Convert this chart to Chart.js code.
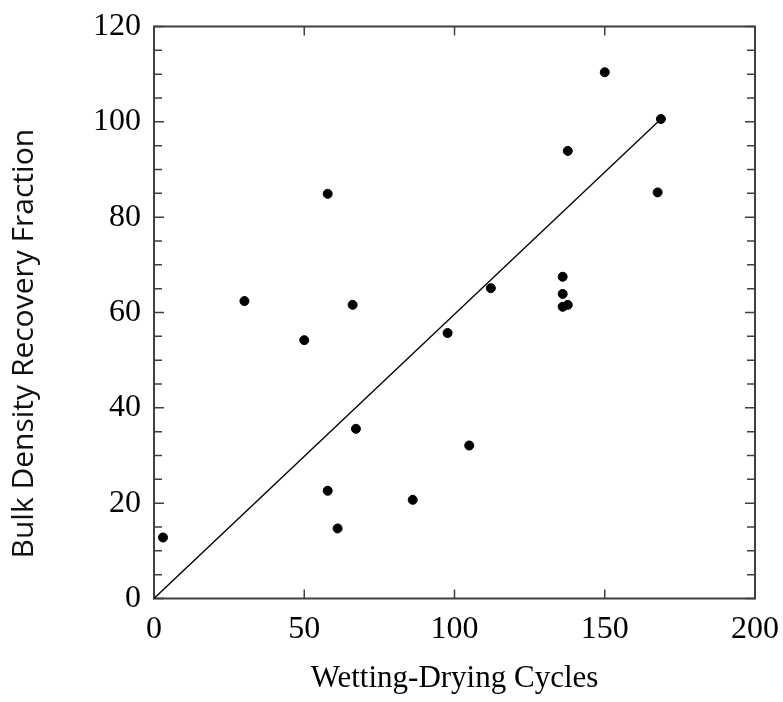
<!DOCTYPE html>
<html>
<head>
<meta charset="utf-8">
<script src="https://cdn.jsdelivr.net/npm/chart.js@4"></script>
<style>
  html, body { margin: 0; padding: 0; background: #fff; }
  #wrap { width: 783px; height: 702px; }
</style>
</head>
<body>
<div id="wrap"><canvas id="c" width="783" height="702"></canvas></div>
<script>
// Data
const cyclesX = [3, 57.8, 61.1, 67.2, 86.1, 104.9, 30.1, 50.0, 66.1, 97.7, 112.1, 136.0, 136.0, 136.0, 137.7, 57.8, 150.0, 168.7, 137.7, 167.6];
const recoveryY = [12.8, 22.6, 14.7, 35.6, 20.7, 32.1, 62.4, 54.2, 61.6, 55.7, 65.1, 67.5, 63.9, 61.2, 61.6, 84.9, 110.4, 100.6, 93.9, 85.2];
const fitLineX = [0, 168.7];
const fitLineY = [0, 100.6];
const yLabelValues = [0, 20, 40, 60, 80, 100, 120];
const xTickValues = [0, 50, 100, 150, 200];

const points = cyclesX.map((x, i) => ({ x: x, y: recoveryY[i] }));
const linePts = fitLineX.map((x, i) => ({ x: x, y: fitLineY[i] }));

const AXIS_COLOR = '#404040';

const framePlugin = {
  id: 'frameTicks',
  beforeDatasetsDraw(chart) {
    const { ctx, chartArea: { left, right, top, bottom }, scales: { x, y } } = chart;
    ctx.save();
    ctx.strokeStyle = AXIS_COLOR;
    ctx.lineWidth = 2;
    ctx.strokeRect(left, top, right - left, bottom - top);
    ctx.lineWidth = 1.5;
    ctx.beginPath();
    y.ticks.forEach(t => {
      const py = y.getPixelForValue(t.value);
      const len = yLabelValues.includes(t.value) ? 10 : 8;
      ctx.moveTo(left, py); ctx.lineTo(left + len, py);
      ctx.moveTo(right, py); ctx.lineTo(right - len, py);
    });
    x.ticks.forEach(t => {
      const px = x.getPixelForValue(t.value);
      ctx.moveTo(px, bottom); ctx.lineTo(px, bottom - 9);
      ctx.moveTo(px, top); ctx.lineTo(px, top + 9);
    });
    ctx.stroke();
    ctx.restore();
  }
};

new Chart(document.getElementById('c'), {
  type: 'scatter',
  data: {
    datasets: [
      {
        label: 'Fit',
        type: 'line',
        data: linePts,
        borderColor: '#000',
        borderWidth: 1.3,
        pointRadius: 0,
        fill: false,
        tension: 0
      },
      {
        label: 'Observations',
        data: points,
        backgroundColor: '#000',
        borderColor: '#000',
        pointRadius: 4.5,
        pointHoverRadius: 4.5
      }
    ]
  },
  options: {
    responsive: false,
    animation: false,
    devicePixelRatio: 1,
    layout: { padding: { top: 26.5, right: 28, left: 0, bottom: 0 } },
    plugins: { legend: { display: false }, tooltip: { enabled: false } },
    scales: {
      x: {
        type: 'linear',
        min: 0, max: 200,
        grid: { display: false, drawTicks: false },
        border: { display: false },
        afterBuildTicks(scale) { scale.ticks = xTickValues.map(v => ({ value: v })); },
        afterFit(scale) {
          scale.height = 103.5;
          scale.paddingLeft = 0; scale.paddingRight = 0;
        },
        ticks: {
          padding: 12,
          color: '#000',
          font: { family: 'Liberation Serif', size: 32 },
          maxRotation: 0,
          autoSkip: false
        },
        title: {
          display: true,
          text: 'Wetting-Drying Cycles',
          color: '#000',
          font: { family: 'Liberation Serif', size: 31 },
          padding: { top: 0, bottom: 5 }
        }
      },
      y: {
        type: 'linear',
        min: 0, max: 120,
        grid: { display: false, drawTicks: false },
        border: { display: false },
        afterFit(scale) {
          scale.width = 154;
          scale.paddingTop = 0; scale.paddingBottom = 0;
        },
        ticks: {
          stepSize: 5,
          autoSkip: false,
          padding: 13,
          color: '#000',
          font: { family: 'Liberation Serif', size: 32 },
          callback: v => yLabelValues.includes(v) ? String(v) : ''
        },
        title: {
          display: true,
          text: 'Bulk Density Recovery Fraction        ',
          color: '#111',
          font: { family: 'Open Sans', size: 30 },
          padding: { top: 6, bottom: 0 }
        }
      }
    }
  },
  plugins: [framePlugin]
});
</script>
</body>
</html>
